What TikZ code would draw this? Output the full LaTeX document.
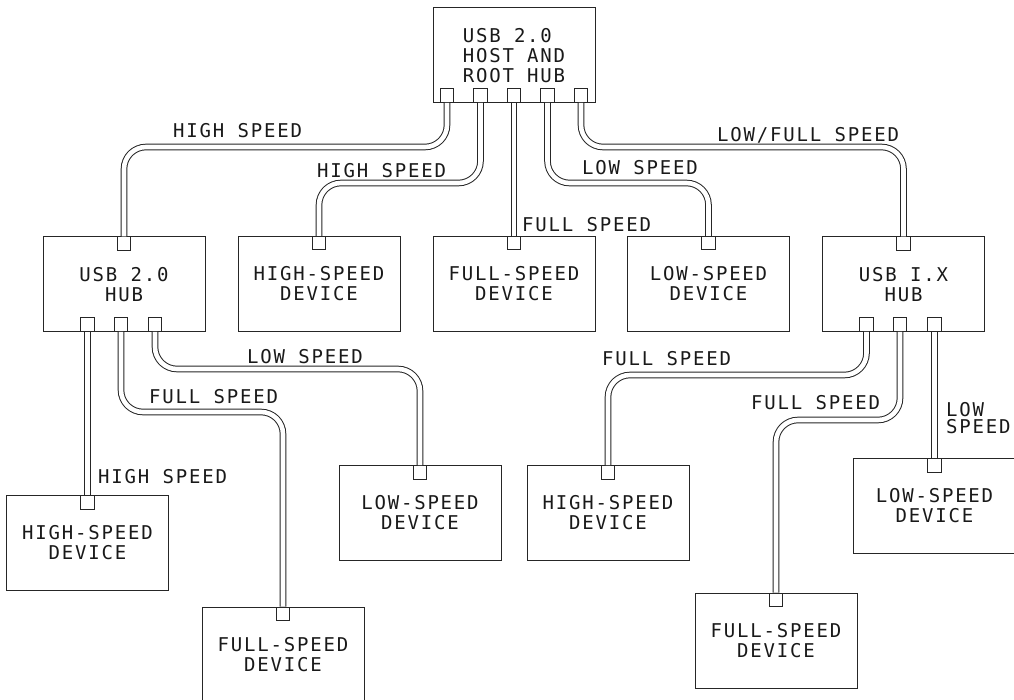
\documentclass[tikz,border=0pt]{standalone}
\usepackage{fontspec}
\newfontfamily\cadfont{DejaVu Sans Mono}[LetterSpace=9.5]

\begin{document}
\begin{tikzpicture}[x=1pt, y=-1pt,
    box/.style={draw=black!85, line width=1pt, minimum width=162pt, minimum height=95pt,
        inner sep=0pt, align=center, text=black!90, font={\cadfont\fontsize{19}{20}\selectfont}},
    port/.style={draw=black!85, line width=1pt, minimum size=13.5pt, inner sep=0pt},
    cable/.style={draw=black!85, line width=1pt, double, double distance=4.6pt, rounded corners=22pt},
    speed text/.style={inner sep=0pt, anchor=base west, text=black!90,
        font={\cadfont\fontsize{19}{17.5}\selectfont}}]
    \clip (0,0) rectangle (1014,700);

    % host and root hub
    \node[box, align=left] (host) at (514,55.5) {USB 2.0\\HOST AND\\ROOT HUB};
    \foreach \x [count=\i] in {447,480.5,514,547.5,581}
        \node[port, anchor=south] (r\i) at (\x,103) {};

    % second row
    \node[box] (hub2) at (124,284.5) {USB 2.0\\HUB};
    \node[box] (hsd) at (319,284) {HIGH-SPEED\\DEVICE};
    \node[box] (fsd) at (514,284) {FULL-SPEED\\DEVICE};
    \node[box] (lsd) at (708.5,284) {LOW-SPEED\\DEVICE};
    \node[box] (hub1) at (903.5,284.5) {USB I.X\\HUB};
    \foreach \x [count=\i] in {87.5,121,155}
        \node[port, anchor=south] (u\i) at (\x,332) {};
    \foreach \x [count=\i] in {866.5,900,934.5}
        \node[port, anchor=south] (v\i) at (\x,332) {};

    % third row
    \node[box] (hsd2) at (87.5,543) {HIGH-SPEED\\DEVICE};
    \node[box] (fsd2) at (283,654.5) {FULL-SPEED\\DEVICE};
    \node[box] (lsd2) at (420,513) {LOW-SPEED\\DEVICE};
    \node[box] (hsd3) at (608,513) {HIGH-SPEED\\DEVICE};
    \node[box] (lsd3) at (934.5,506) {LOW-SPEED\\DEVICE};
    \node[box] (fsd3) at (776,640.5) {FULL-SPEED\\DEVICE};

    % upstream ports
    \foreach \b in {hub2,hsd,fsd,lsd,hub1,hsd2,fsd2,lsd2,hsd3,lsd3,fsd3}
        \node[port, anchor=north] (\b-in) at (\b.north) {};

    % cables
    \draw[cable] (r1.south) -- ++(0,44) -| (hub2-in.north);
    \draw[cable] (r2.south) -- ++(0,80) -| (hsd-in.north);
    \draw[cable] (r3.south) -- (fsd-in.north);
    \draw[cable] (r4.south) -- ++(0,80) -| (lsd-in.north);
    \draw[cable] (r5.south) -- ++(0,44) -| (hub1-in.north);
    \draw[cable] (u1.south) -- (hsd2-in.north);
    \draw[cable] (u2.south) -- ++(0,80) -| (fsd2-in.north);
    \draw[cable] (u3.south) -- ++(0,37) -| (lsd2-in.north);
    \draw[cable] (v1.south) -- ++(0,43) -| (hsd3-in.north);
    \draw[cable] (v2.south) -- ++(0,88) -| (fsd3-in.north);
    \draw[cable] (v3.south) -- (lsd3-in.north);

    % cable labels
    \node[speed text] (t1) at (173,138) {HIGH SPEED};
    \node[speed text] (t2) at (317,178) {HIGH SPEED};
    \node[speed text] (t3) at (522,232) {FULL SPEED};
    \node[speed text] (t4) at (582,175) {LOW SPEED};
    \node[speed text] (t5) at (717,142) {LOW/FULL SPEED};
    \node[speed text] (t6) at (98,483) {HIGH SPEED};
    \node[speed text] (t7) at (149,403) {FULL SPEED};
    \node[speed text] (t8) at (247,363) {LOW SPEED};
    \node[speed text] (t9) at (602,366) {FULL SPEED};
    \node[speed text] (t10) at (751,409) {FULL SPEED};
    \node[speed text, anchor=north west, align=left] (t11) at (946,402) {LOW\\SPEED};
\end{tikzpicture}
\end{document}
